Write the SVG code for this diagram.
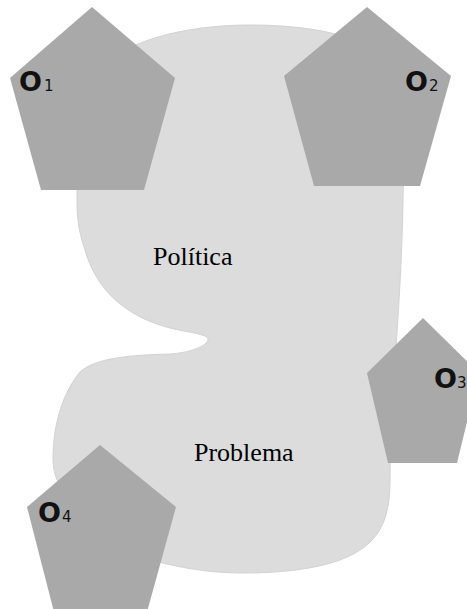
<svg xmlns="http://www.w3.org/2000/svg" width="467" height="609" viewBox="0 0 467 609">
<style>
.pent{fill:#a9a9a9;}
.blob{fill:#dcdcdc;stroke:#d2d2d2;stroke-width:1;}
.lbl{font-family:"Liberation Serif","Times New Roman",serif;font-size:26px;fill:#000;}
.o{font-family:"DejaVu Sans",sans-serif;font-weight:bold;font-size:27px;fill:#111;}
.d{font-family:"DejaVu Sans",sans-serif;font-size:15px;fill:#111;}
</style>
<rect width="467" height="609" fill="#fff"/>
<g id="blob">
<path class="blob" d="M 77 200 C 77 150 80 100 100 70 C 130 35 200 25 250 25 C 310 25 360 35 395 60 C 405 80 404 150 403 200 C 402 260 398 320 395 360 C 392 400 390 440 390 480 C 390 520 380 545 340 560 C 300 575 230 575 200 570 C 170 566 150 560 140 555 C 80 520 53 490 53 460 C 53 420 65 390 80 372 C 95 358 130 355 170 354 C 200 352 215 340 205 336 C 195 332 180 331 170 328 C 120 315 95 285 85 250 C 78 230 77 215 77 200 Z"/>
<text class="lbl" x="153" y="265">Política</text>
<text class="lbl" x="194" y="461">Problema</text>
</g>
<g id="o1">
<polygon class="pent" points="92,7 175,78 144,190 41,190 10,78"/>
<text class="o" x="19" y="91">O</text><text class="d" x="44" y="91">1</text>
</g>
<g id="o2">
<polygon class="pent" points="367,7 451,76 420,186 314,186 284,76"/>
<text class="o" x="405" y="91">O</text><text class="d" x="429" y="91">2</text>
</g>
<g id="o3">
<polygon class="pent" points="423,318 479,373 457,463 388,463 367,373"/>
<text class="o" x="434" y="388">O</text><text class="d" x="457" y="388">3</text>
</g>
<g id="o4">
<polygon class="pent" points="100,445 176,507 147,612 54,612 27,507"/>
<text class="o" x="38" y="522">O</text><text class="d" x="62" y="522">4</text>
</g>
<g id="connectors"/>
</svg>
